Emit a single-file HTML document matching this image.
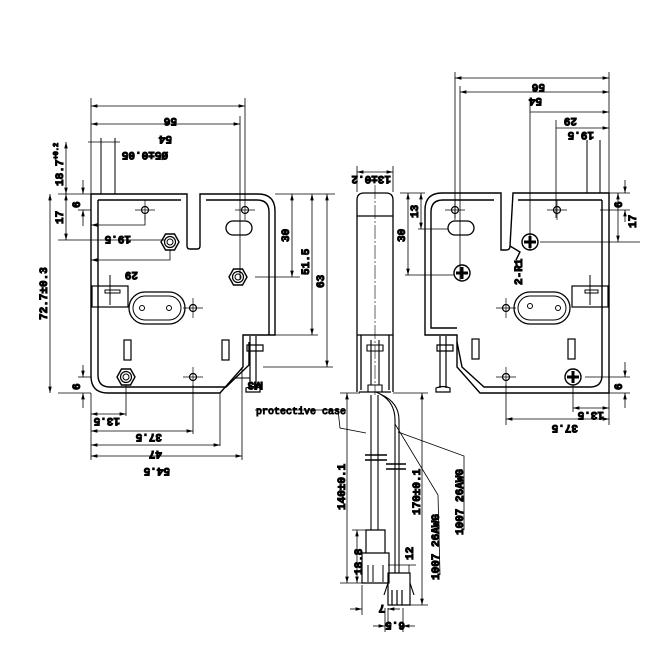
<!DOCTYPE html>
<html><head><meta charset="utf-8"><style>
html,body{margin:0;padding:0;background:#fff;}
svg{display:block;}
text{font-family:"Liberation Mono",monospace;font-weight:bold;font-size:11px;fill:#000;}
.t{font-family:"Liberation Sans",sans-serif;font-weight:bold;font-size:11px;}
</style></head><body>
<svg width="658" height="654" viewBox="0 0 658 654" xmlns="http://www.w3.org/2000/svg" stroke="#000" fill="none" stroke-width="1">
<defs>
<marker id="a" markerWidth="8" markerHeight="6" refX="8" refY="3" orient="auto-start-reverse"><path d="M0,0.8 L8,3 L0,5.2z" fill="#000" stroke="none"/></marker>
<g id="nut"><polygon points="-9,0 -4.5,-8 4.5,-8 9,0 4.5,8 -4.5,8" stroke-width="1.4"/><circle r="5.5" stroke-width="1.2"/><circle r="3"/></g>
<g id="ph"><circle r="8" stroke-width="1.4"/><path d="M-6,0H6M0,-6V6" stroke-width="3"/></g>
<g id="sh"><circle r="3.5" stroke-width="1.2"/><path d="M-10,0H10M0,-10V10" stroke-width="0.7"/></g>
</defs>

<!-- LEFT PLATE -->
<g stroke-width="1.4">
<path d="M91,194 H187 V246 Q187,249 190,249 H197 Q200,249 200,246 V194 H258 Q275,194 275,211 V335 H243 V367 L220,393 H108 Q91,393 91,376 Z"/>
<path d="M98,200 H181 M206,200 H257 Q269,200 269,212 V335 M249,342 V365 L226,387 H110 Q98,387 98,375 V200"/>
</g>
<path d="M101,138 V194 M115,138 V194"/>
<use href="#sh" x="145" y="210"/><use href="#sh" x="245" y="210"/>
<use href="#nut" x="170" y="242"/><use href="#nut" x="238" y="277"/><use href="#nut" x="126" y="377"/>
<rect x="226" y="221" width="26" height="14" rx="7" stroke-width="1.3"/>
<rect x="129" y="292" width="56" height="32" rx="16" stroke-width="1.3"/>
<rect x="133" y="296" width="48" height="24" rx="12"/>
<circle cx="142" cy="308" r="2.5"/><circle cx="169" cy="308" r="2.5"/>
<use href="#sh" x="193" y="308"/><use href="#sh" x="193" y="377"/>
<rect x="92" y="286" width="36" height="21" stroke-width="1.2"/><path d="M105,290 H120 V293 H105Z M110,275 V305"/>
<rect x="124" y="340" width="7" height="20" stroke-width="1.2"/><rect x="222" y="340" width="7" height="20" stroke-width="1.2"/>
<!-- screw -->
<path d="M250,336 V388 M256,336 V388 M247,345 H263 V351 H247Z M246,388 Q253,385 260,388 V392 H246Z" stroke-width="1.2"/>
<path d="M235,378 H250"/>
<text transform="translate(263,382) rotate(180)" class="t">M3</text>
<!-- left dims -->
<g stroke-width="0.8">
<path d="M91,98 V194 M245,98 V200 M240,116 V280"/>
<path d="M91,106 H245" marker-start="url(#a)" marker-end="url(#a)"/>
<path d="M91,124 H240" marker-start="url(#a)" marker-end="url(#a)"/>
<path d="M88,142 H120 M58,194 H91 M58,240 H165 M58,393 H91"/>
<path d="M66,142 V194" marker-start="url(#a)" marker-end="url(#a)"/>
<path d="M66,194 V240" marker-start="url(#a)" marker-end="url(#a)"/>
<path d="M83,180 V194" marker-end="url(#a)"/><path d="M83,226 V210" marker-end="url(#a)"/><path d="M78,210 H91"/>
<path d="M50,194 V393" marker-start="url(#a)" marker-end="url(#a)"/>
<path d="M91,225 H145 V215" marker-start="url(#a)"/>
<path d="M91,260 H170 V250" marker-start="url(#a)"/>
<path d="M275,194 H335 M255,277 H300 M275,335 H318 M263,367 H333"/>
<path d="M292,194 V277" marker-start="url(#a)" marker-end="url(#a)"/>
<path d="M312,194 V335" marker-start="url(#a)" marker-end="url(#a)"/>
<path d="M327,194 V367" marker-start="url(#a)" marker-end="url(#a)"/>
<path d="M83,365 V377" marker-end="url(#a)"/><path d="M83,408 V393" marker-end="url(#a)"/><path d="M78,377 H91"/>
<path d="M91,393 V460 M126,385 V416 M193,385 V434 M220,393 V446 M242,367 V460"/>
<path d="M91,414 H126" marker-start="url(#a)" marker-end="url(#a)"/>
<path d="M91,431 H193" marker-start="url(#a)" marker-end="url(#a)"/>
<path d="M91,445 H220" marker-start="url(#a)" marker-end="url(#a)"/>
<path d="M91,456 H242" marker-start="url(#a)" marker-end="url(#a)"/>
</g>
<text transform="translate(177,118) rotate(180)">56</text>
<text transform="translate(172,136) rotate(180)">54</text>
<text transform="translate(168,152) rotate(180)">Ø5±0.05</text>
<text transform="translate(63,186) rotate(-90)">18.7<tspan font-size="7" dy="-5">+0.2</tspan></text>
<text transform="translate(63,224) rotate(-90)">17</text>
<text transform="translate(80,208) rotate(-90)">6</text>
<text transform="translate(47,320) rotate(-90)">72.7±0.3</text>
<text transform="translate(131,236) rotate(180)">19.5</text>
<text transform="translate(138,272) rotate(180)">29</text>
<text transform="translate(289,242) rotate(-90)">30</text>
<text transform="translate(309,275) rotate(-90)">51.5</text>
<text transform="translate(324,288) rotate(-90)">63</text>
<text transform="translate(80,390) rotate(-90)">6</text>
<text transform="translate(120,418) rotate(180)">13.5</text>
<text transform="translate(162,434) rotate(180)">37.5</text>
<text transform="translate(162,451) rotate(180)">47</text>
<text transform="translate(170,468) rotate(180)">54.5</text>

<!-- SIDE VIEW -->
<g stroke-width="1.3">
<path d="M357,392 V200 Q357,193 364,193 H386 Q393,193 393,200 V392"/>
<path d="M357,216 H393 M357,335 H393 M361,335 V390 M389,335 V390 M359,392 H391"/>
</g>
<path d="M375,185 V395" stroke-width="0.6" stroke-dasharray="14,2,2,2"/>
<path d="M371,340 V385 M379,340 V385 M367,345 H383 V351 H367Z M368,385 H382 V392 H368Z" stroke-width="1.1"/>
<path d="M357,166 V192 M393,166 V192" stroke-width="0.8"/>
<path d="M357,172 H393" marker-start="url(#a)" marker-end="url(#a)" stroke-width="0.8"/>
<text transform="translate(391,176) rotate(180)">13±0.2</text>
<!-- cable -->
<path d="M371,395 V530 M378,395 V530 M376,392 Q395,400 395,420 V573 M380,394 Q399,402 399,420 V573" stroke-width="1.1"/>
<path d="M365,455 H387 M365,460 H387 M386,464 H406 M386,469 H406" stroke-width="1.4"/>
<path d="M366,530 H385 V553 H366Z M362,553 H389 V583 H362Z" stroke-width="1.2"/>
<path d="M368,565 V582 M373,565 V582 M383,565 V582" />
<path d="M388,573 H410 V605 H388Z M392,590 V605 M397,590 V605 M402,590 V605" stroke-width="1.2"/>
<path d="M384,595 L388,583 M414,595 L410,583" stroke-width="1.1"/>
<g stroke-width="0.8">
<path d="M340,393 H360 M340,583 H362 M398,605 H428 M393,393 H428 M352,530 H366 M388,565 H416"/>
<path d="M347,393 V583" marker-start="url(#a)" marker-end="url(#a)"/>
<path d="M422,393 V605" marker-start="url(#a)" marker-end="url(#a)"/>
<path d="M357,530 V583" marker-start="url(#a)" marker-end="url(#a)"/>
<path d="M409,565 V573" />
<path d="M362,585 V615 M388,608 V628 M385,608 V632 M403,608 V632"/>
<path d="M350,609 H362" marker-end="url(#a)"/><path d="M400,609 H388" marker-end="url(#a)"/>
<path d="M373,626 H385" marker-end="url(#a)"/><path d="M415,626 H403" marker-end="url(#a)"/>
<path d="M338,410 L340,428 L366,433 M338,410 H255"/>
<path d="M395,424 L438,495 L440,575 M398,432 L464,456 L464,530"/>
</g>
<text x="256" y="414" style="font-weight:normal;font-size:10px">protective case</text>
<text transform="translate(345,510) rotate(-90)">140±0.1</text>
<text transform="translate(420,515) rotate(-90)">170±0.1</text>
<text transform="translate(362,575) rotate(-90)">18.8</text>
<text transform="translate(413,560) rotate(-90)">12</text>
<text transform="translate(439,580) rotate(-90)">1007 26AWG</text>
<text transform="translate(463,535) rotate(-90)">1007 26AWG</text>
<text transform="translate(385,605) rotate(180)">7</text>
<text transform="translate(405,622) rotate(180)">6.5</text>

<!-- RIGHT PLATE -->
<g stroke-width="1.4">
<path d="M609,193 H513 L510,246 Q510,250 506,250 H501 V193 H442 Q425,193 425,210 V335 H457 V367 L480,393 H609 Z"/>
<path d="M602,200 H518 M494,200 H443 Q431,200 431,212 V328 H457 M457,342 L462,367 L484,387 H590 Q602,387 602,375 V200"/>
<path d="M510,246 L520,252 L516,260"/>
</g>
<path d="M587,140 V193 M600,140 V193"/>
<use href="#sh" x="455" y="210"/><use href="#sh" x="557" y="210"/>
<rect x="448" y="221" width="26" height="14" rx="7" stroke-width="1.3"/>
<use href="#ph" x="462" y="273"/><use href="#ph" x="530" y="242"/><use href="#ph" x="573" y="377"/>
<rect x="514" y="292" width="56" height="32" rx="16" stroke-width="1.3"/>
<rect x="518" y="296" width="48" height="24" rx="12"/>
<circle cx="530" cy="306" r="2.5"/><circle cx="558" cy="308" r="2.5"/>
<use href="#sh" x="506" y="308"/><use href="#sh" x="506" y="377"/>
<rect x="572" y="286" width="36" height="21" stroke-width="1.2"/><path d="M585,290 H598 V293 H585Z M590,275 V305"/>
<rect x="472" y="339" width="7" height="20" stroke-width="1.2"/><rect x="568" y="339" width="7" height="20" stroke-width="1.2"/>
<path d="M440,336 V388 M446,336 V388 M437,345 H453 V351 H437Z M436,388 Q443,385 450,388 V392 H436Z" stroke-width="1.2"/>
<g stroke-width="0.8">
<path d="M455,72 V218 M609,72 V193 M460,86 V280 M530,106 V250 M556,120 V218"/>
<path d="M455,78 H609" marker-start="url(#a)" marker-end="url(#a)"/>
<path d="M460,92 H609" marker-start="url(#a)" marker-end="url(#a)"/>
<path d="M530,112 H609" marker-end="url(#a)"/>
<path d="M556,128 H609" marker-end="url(#a)"/>
<path d="M400,193 H425 M405,275 H455 M418,229 H448"/>
<path d="M408,193 V275" marker-start="url(#a)" marker-end="url(#a)"/>
<path d="M421,193 V229" marker-start="url(#a)" marker-end="url(#a)"/>
<path d="M600,210 H630 M540,242 H640 M609,193 H630"/>
<path d="M625,180 V193" marker-end="url(#a)"/><path d="M625,222 V210" marker-end="url(#a)"/>
<path d="M618,193 V242" marker-start="url(#a)" marker-end="url(#a)"/>
<path d="M585,377 H630 M609,393 H630"/>
<path d="M625,362 V377" marker-end="url(#a)"/><path d="M625,408 V393" marker-end="url(#a)"/>
<path d="M609,393 V425 M573,385 V412 M506,385 V425"/>
<path d="M573,408 H609" marker-start="url(#a)" marker-end="url(#a)"/>
<path d="M506,419 H609" marker-start="url(#a)" marker-end="url(#a)"/>
</g>
<text transform="translate(545,84) rotate(180)">56</text>
<text transform="translate(542,98) rotate(180)">54</text>
<text transform="translate(577,118) rotate(180)">29</text>
<text transform="translate(594,132) rotate(180)">19.5</text>
<text transform="translate(405,242) rotate(-90)">30</text>
<text transform="translate(418,218) rotate(-90)">13</text>
<text transform="translate(522,285) rotate(-90)">2-R1</text>
<text transform="translate(622,208) rotate(-90)">6</text>
<text transform="translate(636,228) rotate(-90)">17</text>
<text transform="translate(622,390) rotate(-90)">6</text>
<text transform="translate(604,412) rotate(180)">13.5</text>
<text transform="translate(578,425) rotate(180)">37.5</text>
</svg>
</body></html>
